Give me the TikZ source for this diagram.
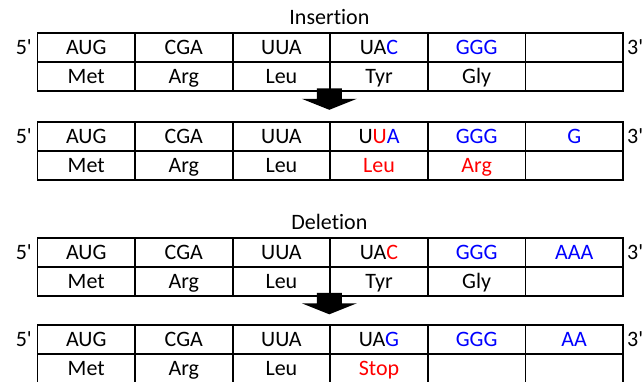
\documentclass[tikz,border=0pt]{standalone}
\usepackage{fontspec}
\setmainfont{Carlito}[Ligatures={TeXOff,CommonOff}]
\newcommand\ntBlue[1]{\textcolor{blue}{#1}}
\newcommand\ntRed[1]{\textcolor{red}{#1}}
\begin{document}
\begin{tikzpicture}[x=1pt,y=-1pt,
  txt/.style={font=\fontsize{22}{22}\selectfont, inner sep=0pt, text height=14.2pt, text depth=0pt},
  cell/.style={txt, draw, line width=1.8pt, minimum width=97.6pt, minimum height=29pt, anchor=north west},
  endlabel/.style={txt},
  title/.style={font=\fontsize{22}{22}\selectfont, inner sep=0pt, anchor=base},
  blockarrow/.style={fill=black, draw=none}]
\useasboundingbox (0,0) rectangle (643,382);

% Insertion: original strand
\node[title] (tins) at (329.4,25) {Insertion};
\foreach \i/\t in {0/AUG,1/CGA,2/UUA,3/UA\ntBlue{C},4/\ntBlue{GGG},5/{}}
  \node[cell] (a\i) at (36.5+97.6*\i,32.5) {\t};
\foreach \i/\t in {0/Met,1/Arg,2/Leu,3/Tyr,4/Gly,5/{}}
  \node[cell] (am\i) at (36.5+97.6*\i,61.5) {\t};
\node[endlabel, anchor=east] (a5p) at ([xshift=-4.5pt]a0.west) {5'};
\node[endlabel, anchor=west] (a3p) at ([xshift=3pt]a5.east) {3'};

% Insertion: mutated strand
\foreach \i/\t in {0/AUG,1/CGA,2/UUA,3/U\ntRed{U}\ntBlue{A},4/\ntBlue{GGG},5/\ntBlue{G}}
  \node[cell] (b\i) at (36.5+97.6*\i,121) {\t};
\foreach \i/\t in {0/Met,1/Arg,2/Leu,3/\ntRed{Leu},4/\ntRed{Arg},5/{}}
  \node[cell] (bm\i) at (36.5+97.6*\i,150) {\t};
\node[endlabel, anchor=east] (b5p) at ([xshift=-4.5pt]b0.west) {5'};
\node[endlabel, anchor=west] (b3p) at ([xshift=3pt]b5.east) {3'};

% Deletion: original strand
\node[title] (tdel) at (329.4,229.3) {Deletion};
\foreach \i/\t in {0/AUG,1/CGA,2/UUA,3/UA\ntRed{C},4/\ntBlue{GGG},5/\ntBlue{AAA}}
  \node[cell] (c\i) at (36.5+97.6*\i,237) {\t};
\foreach \i/\t in {0/Met,1/Arg,2/Leu,3/Tyr,4/Gly,5/{}}
  \node[cell] (cm\i) at (36.5+97.6*\i,266) {\t};
\node[endlabel, anchor=east] (c5p) at ([xshift=-4.5pt]c0.west) {5'};
\node[endlabel, anchor=west] (c3p) at ([xshift=3pt]c5.east) {3'};

% Deletion: mutated strand
\foreach \i/\t in {0/AUG,1/CGA,2/UUA,3/UA\ntBlue{G},4/\ntBlue{GGG},5/\ntBlue{AA}}
  \node[cell] (d\i) at (36.5+97.6*\i,324) {\t};
\foreach \i/\t in {0/Met,1/Arg,2/Leu,3/\ntRed{Stop},4/{},5/{}}
  \node[cell] (dm\i) at (36.5+97.6*\i,353) {\t};
\node[endlabel, anchor=east] (d5p) at ([xshift=-4.5pt]d0.west) {5'};
\node[endlabel, anchor=west] (d3p) at ([xshift=3pt]d5.east) {3'};

% block arrows between the strands
\coordinate (arrA) at ([yshift=4pt]am3.south west);
\coordinate (arrB) at ([yshift=4pt]cm3.south west);
\foreach \p in {arrA,arrB}
  \fill[blockarrow, shift={(\p)}]
    (-12.5,0) -- (12.5,0) -- (12.5,10.5) -- (27.5,10.5) -- (0,21.5)
    -- (-27.5,10.5) -- (-12.5,10.5) -- cycle;
\end{tikzpicture}
\end{document}
